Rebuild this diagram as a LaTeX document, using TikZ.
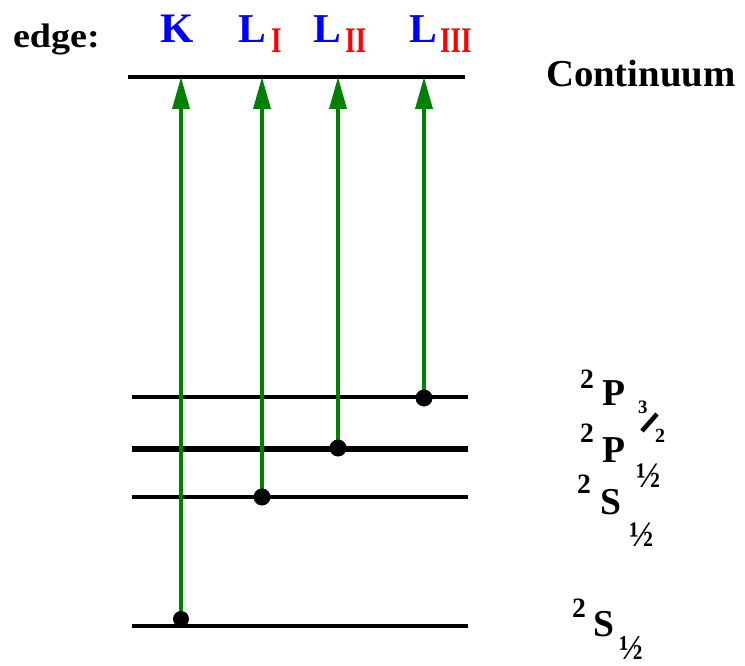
\documentclass[tikz,border=0pt]{standalone}
\usepackage{fontspec}
\setmainfont{Liberation Serif}
\usetikzlibrary{arrows.meta}
\definecolor{arrgreen}{RGB}{0,128,0}
\definecolor{edgeblue}{RGB}{0,0,255}
\definecolor{edgered}{RGB}{255,0,0}
\newcommand{\txt}[3]{\scalebox{#1}[#2]{#3}}
\begin{document}
\begin{tikzpicture}[x=1pt,y=-1pt,
  lbl/.style={anchor=base west, inner sep=0pt, outer sep=0pt, font=\fontsize{40}{40}\selectfont\bfseries},
  level/.style={line width=4pt},
  trans/.style={draw=arrgreen, line width=3.5pt, -{Triangle[length=32pt,width=17pt]}},
  dotc/.style={fill=black}]
\useasboundingbox (0,0) rectangle (745,666);

% levels
\coordinate (cl) at (128,77);  \coordinate (cr) at (465,77);
\coordinate (al) at (132,397); \coordinate (ar) at (468,397);
\coordinate (bl) at (132,449); \coordinate (br) at (468,449);
\coordinate (sl) at (132,497); \coordinate (sr) at (468,497);
\coordinate (kl) at (132,626); \coordinate (kr) at (468,626);
\draw[level] (cl) -- (cr);
\draw[level] (al) -- (ar);
\draw[level, line width=5.5pt] (bl) -- (br);
\draw[level] (sl) -- (sr);
\draw[level] (kl) -- (kr);

% transitions
\coordinate (kdot) at (181,619);  \coordinate (ktop) at (181,77);
\coordinate (l1dot) at (262,497); \coordinate (l1top) at (262,77);
\coordinate (l2dot) at (338,448); \coordinate (l2top) at (338,77);
\coordinate (l3dot) at (424,398); \coordinate (l3top) at (424,77);
\draw[trans] (kdot) -- (ktop);
\draw[trans] (l1dot) -- (l1top);
\draw[trans] (l2dot) -- (l2top);
\draw[trans] (l3dot) -- (l3top);
\fill[dotc] (kdot) circle (8pt);
\fill[dotc] (l1dot) circle (8.5pt);
\fill[dotc] (l2dot) circle (8.5pt);
\fill[dotc] (l3dot) circle (8.5pt);

% edge labels
\node[lbl] (edge) at (13,48) {\txt{0.952}{0.85}{edge:}};
\node[lbl, text=edgeblue] (k) at (160,43) {\txt{1.07}{1.05}{K}};
\node[lbl, text=edgeblue] (la) at (238,43) {\txt{1.04}{1.025}{L}};
\node[lbl, text=edgered] (laS) at (271,53) {\txt{0.675}{0.9}{I}};
\node[lbl, text=edgeblue] (lb) at (313,43) {\txt{1.04}{1.025}{L}};
\node[lbl, text=edgered] (lbS) at (345,53) {\txt{0.675}{0.9}{II}};
\node[lbl, text=edgeblue] (lc) at (409,43) {\txt{1.04}{1.025}{L}};
\node[lbl, text=edgered] (lcS) at (440,53) {\txt{0.675}{0.9}{III}};
\node[lbl] (cont) at (546,87) {\txt{0.97}{0.95}{Continuum}};

% term symbols
\node[lbl] (p3a) at (580,388) {\txt{0.69}{0.7}{2}};
\node[lbl] (p3b) at (602,405) {\txt{0.94}{0.95}{P}};
\node[lbl] (p3c) at (638,413) {\txt{0.47}{0.475}{3}};
\coordinate (sla) at (642,431); \coordinate (slb) at (657,414);
\draw[line width=4.5pt] (sla) -- (slb);
\node[lbl] (p3d) at (655,442) {\txt{0.5}{0.5}{2}};

\node[lbl] (p1a) at (580,442) {\txt{0.69}{0.7}{2}};
\node[lbl] (p1b) at (602,462) {\txt{0.94}{0.95}{P}};
\node[lbl] (p1c) at (636,487) {\txt{0.81}{0.9}{½}};

\node[lbl] (s2a) at (577,493) {\txt{0.69}{0.7}{2}};
\node[lbl] (s2b) at (600,514) {\txt{0.94}{0.95}{S}};
\node[lbl] (s2c) at (629,546) {\txt{0.81}{0.9}{½}};

\node[lbl] (s1a) at (572,617) {\txt{0.69}{0.7}{2}};
\node[lbl] (s1b) at (593,636) {\txt{0.94}{0.95}{S}};
\node[lbl] (s1c) at (619,659) {\txt{0.79}{0.875}{½}};
\end{tikzpicture}
\end{document}
